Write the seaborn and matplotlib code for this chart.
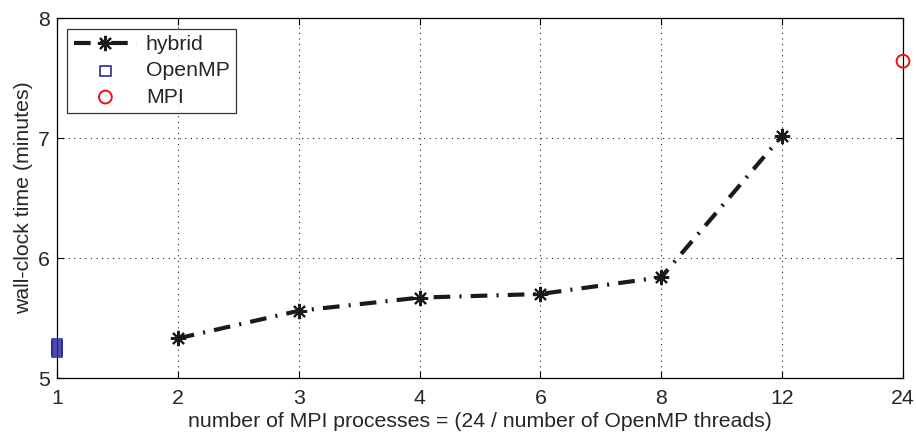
import matplotlib
matplotlib.use("Agg")
import matplotlib.pyplot as plt
import seaborn as sns
import numpy as np
import pandas as pd

# ---- data ----
x_labels = ["1", "2", "3", "4", "6", "8", "12", "24"]
hybrid_x = ["2", "3", "4", "6", "8", "12"]
hybrid_y = [5.33, 5.56, 5.67, 5.70, 5.84, 7.02]
openmp_x = ["1", "1", "1", "1", "1"]
openmp_y = [5.215, 5.235, 5.25, 5.265, 5.285]
mpi_x = ["24"]
mpi_y = [7.64]

sns.set_theme(style="white")
plt.rcParams["font.family"] = ["Liberation Sans", "DejaVu Sans"]
FS = 15.3

pos = {lab: i for i, lab in enumerate(x_labels)}
hyb = pd.DataFrame({"x": [pos[v] for v in hybrid_x], "y": hybrid_y})
omp = pd.DataFrame({"x": [pos[v] for v in openmp_x], "y": openmp_y})
mpi = pd.DataFrame({"x": [pos[v] for v in mpi_x], "y": mpi_y})

fig = plt.figure(figsize=(9.16, 4.33), dpi=100)
ax = fig.add_axes([57 / 916, 1 - 378 / 433, (903 - 57) / 916, (378 - 18) / 433])

sns.lineplot(data=hyb, x="x", y="y", ax=ax, color="#1a1a1a", linewidth=3.0,
             marker=(8, 2, 0), markersize=11, markeredgewidth=1.5,
             markeredgecolor="#1a1a1a", label="hybrid", clip_on=False)
ax.lines[-1].set_dashes([4.0, 2.2, 0.5, 2.2])
sns.scatterplot(data=omp, x="x", y="y", ax=ax, marker="s", s=55,
                facecolor="none", edgecolor="#2b2b9a", linewidth=1.2,
                label="OpenMP", clip_on=False, zorder=5)
sns.scatterplot(data=mpi, x="x", y="y", ax=ax, marker="o", s=85,
                facecolor="none", edgecolor="#ee1111", linewidth=1.4,
                label="MPI", clip_on=False, zorder=5)

ax.set_xlim(0, len(x_labels) - 1)
ax.set_ylim(5, 8)
ax.set_xticks(range(len(x_labels)))
ax.set_xticklabels(x_labels)
ax.set_yticks([5, 6, 7, 8])
ax.set_yticklabels(["5", "6", "7", "8"])
ax.tick_params(direction="in", length=5, width=0.8, color="black",
               labelsize=FS, top=True, right=True, bottom=True, left=True)
ax.tick_params(axis="x", pad=8)
ax.tick_params(axis="y", pad=5)
ax.grid(True, color="#222222", linestyle=(0, (1, 4)), linewidth=0.8)
for s in ax.spines.values():
    s.set_color("black")
    s.set_linewidth(0.9)
ax.set_xlabel("number of MPI processes = (24 / number of OpenMP threads)",
              fontsize=FS, labelpad=3)
ax.set_ylabel("wall-clock time (minutes)", fontsize=FS, labelpad=4)

leg = ax.legend(loc="upper left", bbox_to_anchor=(0.012, 0.97), fontsize=FS,
                frameon=True, fancybox=False, edgecolor="black",
                borderaxespad=0, handlelength=3.0, handletextpad=0.4,
                labelspacing=0.34, borderpad=0.3)
leg.get_frame().set_linewidth(0.9)

fig.savefig("out.png", dpi=100, facecolor="white")
